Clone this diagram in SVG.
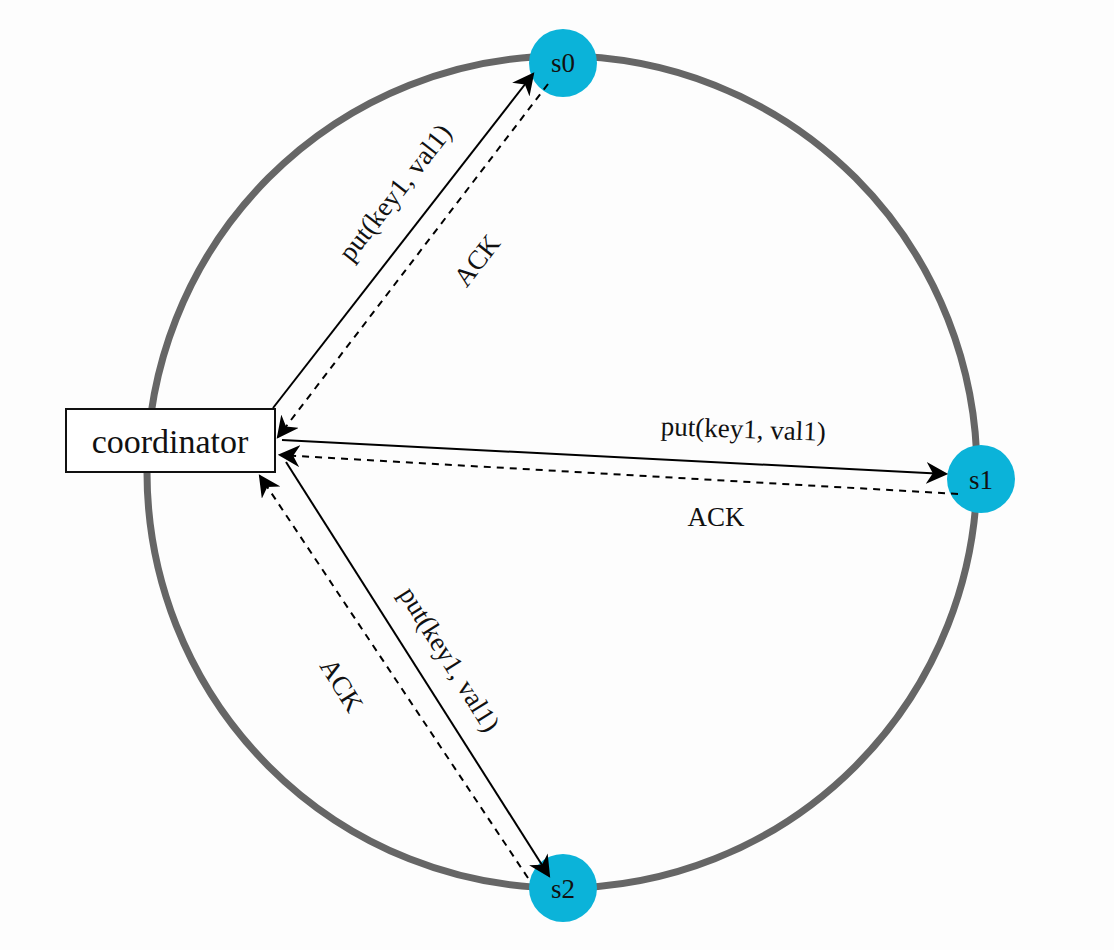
<svg xmlns="http://www.w3.org/2000/svg" width="1114" height="950" viewBox="0 0 1114 950">
<style>
text{font-family:"Liberation Serif","DejaVu Serif",serif;fill:#111}
.lbl{font-size:27px}
.c{stroke:#000;stroke-width:2;fill:none}
.d{stroke-dasharray:7 6}
.node{fill:#0bb3d9}
</style>
<defs>
<marker id="b" viewBox="0 0 10 10" refX="9" refY="5" markerWidth="22" markerHeight="22" markerUnits="userSpaceOnUse" orient="auto"><path d="M0,0 L10,5 L0,10 L3,5 z" fill="#000"/></marker></defs>
<rect width="1114" height="950" fill="#fdfdfd"/>
<ellipse cx="562" cy="472" rx="415" ry="416" fill="none" stroke="#666" stroke-width="7"/>
<g id="coordinator"><rect x="66" y="409" width="209" height="63" fill="#fff" stroke="#111" stroke-width="2"/><text x="170" y="453" font-size="34" text-anchor="middle">coordinator</text></g>
<g id="s0"><circle class="node" cx="563" cy="63" r="34"/><text x="563" y="72" font-size="27" text-anchor="middle">s0</text></g>
<g id="s1"><circle class="node" cx="981" cy="479" r="34"/><text x="981" y="489" font-size="27" text-anchor="middle">s1</text></g>
<g id="s2"><circle class="node" cx="563" cy="888" r="34"/><text x="563" y="898" font-size="27" text-anchor="middle">s2</text></g>
<g id="connectors">
<line class="c" x1="273" y1="408" x2="533" y2="74" marker-end="url(#b)"/>
<line class="c d" x1="548" y1="84" x2="278" y2="437" marker-end="url(#b)"/>
<line class="c" x1="282" y1="440" x2="946" y2="474" marker-end="url(#b)"/>
<line class="c d" x1="958" y1="494" x2="280" y2="455" marker-end="url(#b)"/>
<line class="c" x1="286" y1="462" x2="549" y2="876" marker-end="url(#b)"/>
<line class="c d" x1="528" y1="878" x2="260" y2="476" marker-end="url(#b)"/>
<text class="lbl" text-anchor="middle" transform="translate(402,198) rotate(-52)">put(key1, val1)</text>
<text class="lbl" text-anchor="middle" transform="translate(484,266) rotate(-52)">ACK</text>
<text class="lbl" text-anchor="middle" transform="translate(743,438) rotate(2)">put(key1, val1)</text>
<text class="lbl" text-anchor="middle" x="716" y="526">ACK</text>
<text class="lbl" text-anchor="middle" transform="translate(442,664) rotate(58)">put(key1, val1)</text>
<text class="lbl" text-anchor="middle" transform="translate(334,690) rotate(58)">ACK</text>
</g>
</svg>
